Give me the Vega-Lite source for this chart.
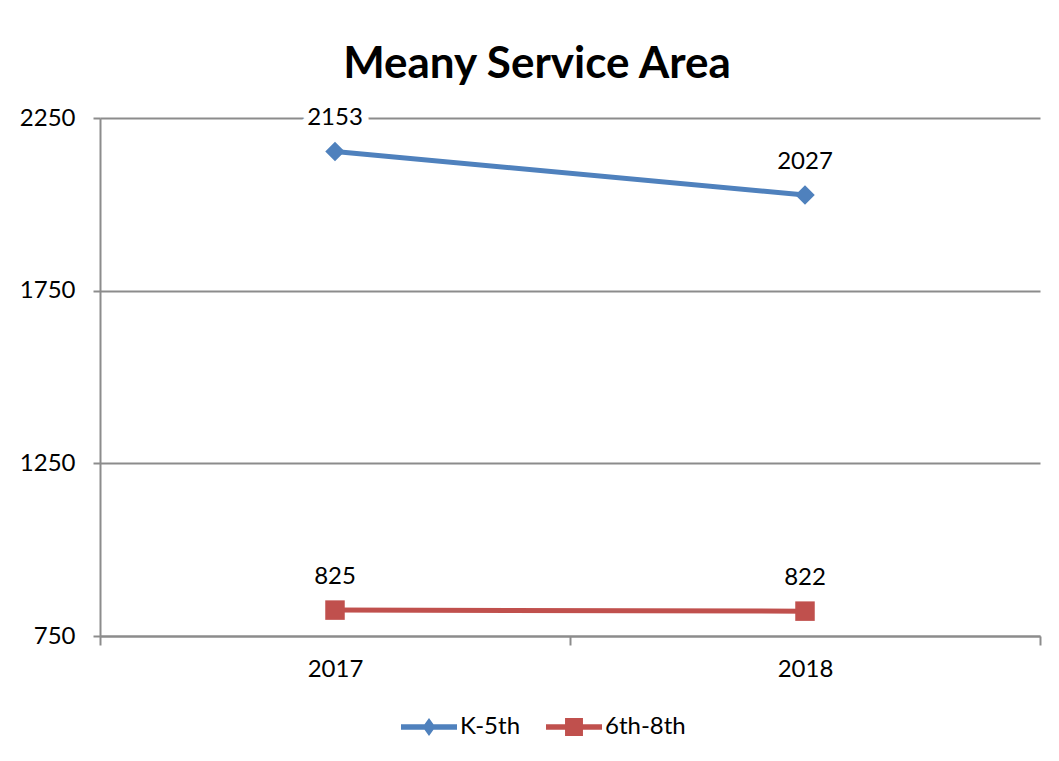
{
  "$schema": "https://vega.github.io/schema/vega-lite/v6.json",
  "autosize": "none",
  "width": 940,
  "height": 518,
  "padding": {"left": 100, "top": 118, "right": 19, "bottom": 125},
  "background": "white",
  "config": {
    "font": "Lato",
    "view": {"stroke": null},
    "axis": {"labelFont": "Lato", "labelFontSize": 24, "labelColor": "#000000", "domainColor": "#8c8c8c", "domainWidth": 2, "tickColor": "#8c8c8c", "tickWidth": 2, "gridColor": "#8c8c8c", "gridWidth": 2}
  },
  "title": {"text": "Meany Service Area", "font": "Lato", "fontSize": 44, "fontWeight": "bold", "color": "#000000", "anchor": "middle", "dx": -33, "offset": 19},
  "data": {"values": [
    {"year": 2017, "series": "K-5th", "value": 2153},
    {"year": 2018, "series": "K-5th", "value": 2027},
    {"year": 2017, "series": "6th-8th", "value": 825},
    {"year": 2018, "series": "6th-8th", "value": 822}
  ]},
  "encoding": {
    "x": {"field": "year", "type": "quantitative",
      "scale": {"domain": [2016.5, 2018.5], "nice": false, "zero": false},
      "axis": {"title": null, "grid": false, "values": [2016.5, 2017, 2017.5, 2018, 2018.5],
        "labelExpr": "datum.value % 1 === 0 ? '' + datum.value : ''",
        "tickSize": 9, "labelPadding": 12,
        "tickOpacity": {"condition": {"test": "datum.value % 1 === 0", "value": 0}, "value": 1}}},
    "y": {"field": "value", "type": "quantitative",
      "scale": {"domain": [750, 2250], "nice": false, "zero": false},
      "axis": {"title": null, "grid": true, "format": "d", "values": [750, 1250, 1750, 2250], "tickSize": 7, "labelPadding": 18}}
  },
  "layer": [
    {
      "mark": {"type": "line", "strokeWidth": 5},
      "encoding": {
        "color": {"field": "series", "type": "nominal",
          "scale": {"domain": ["K-5th", "6th-8th"], "range": ["#4F81BD", "#C0504D"]},
          "legend": {"title": null, "orient": "none", "legendX": 301, "legendY": 581, "direction": "horizontal", "columns": 2,
            "padding": 0, "columnPadding": 25, "labelOffset": 3, "labelFont": "Lato", "labelFontSize": 24, "labelColor": "#000000",
            "symbolSize": 3136,
            "encode": {"symbols": {"update": {
              "shape": {"signal": "datum.value === 'K-5th' ? 'M-1,-0.1L1,-0.1L1,0.1L-1,0.1Z M-0.23,0L0,-0.32L0.23,0L0,0.32Z' : 'M-1,-0.1L1,-0.1L1,0.1L-1,0.1Z M-0.32,-0.32L0.32,-0.32L0.32,0.32L-0.32,0.32Z'"},
              "fill": {"signal": "datum.value === 'K-5th' ? '#4F81BD' : '#C0504D'"},
              "strokeWidth": {"value": 0},
              "opacity": {"value": 1},
              "fillOpacity": {"value": 1}
            }}}}
        }
      }
    },
    {
      "mark": {"type": "point", "filled": true, "opacity": 1, "size": 380},
      "encoding": {
        "color": {"field": "series", "type": "nominal"},
        "shape": {"condition": {"test": "datum.series === 'K-5th'", "value": "diamond"}, "value": "square"}
      }
    },
    {
      "mark": {"type": "text", "dy": -33, "fontSize": 24, "font": "Lato", "fill": "white", "stroke": "white", "strokeWidth": 14, "strokeJoin": "round"},
      "encoding": {"text": {"field": "value", "type": "quantitative", "format": "d"}}
    },
    {
      "mark": {"type": "text", "dy": -33, "fontSize": 24, "font": "Lato", "color": "#000000"},
      "encoding": {"text": {"field": "value", "type": "quantitative", "format": "d"}}
    }
  ]
}
